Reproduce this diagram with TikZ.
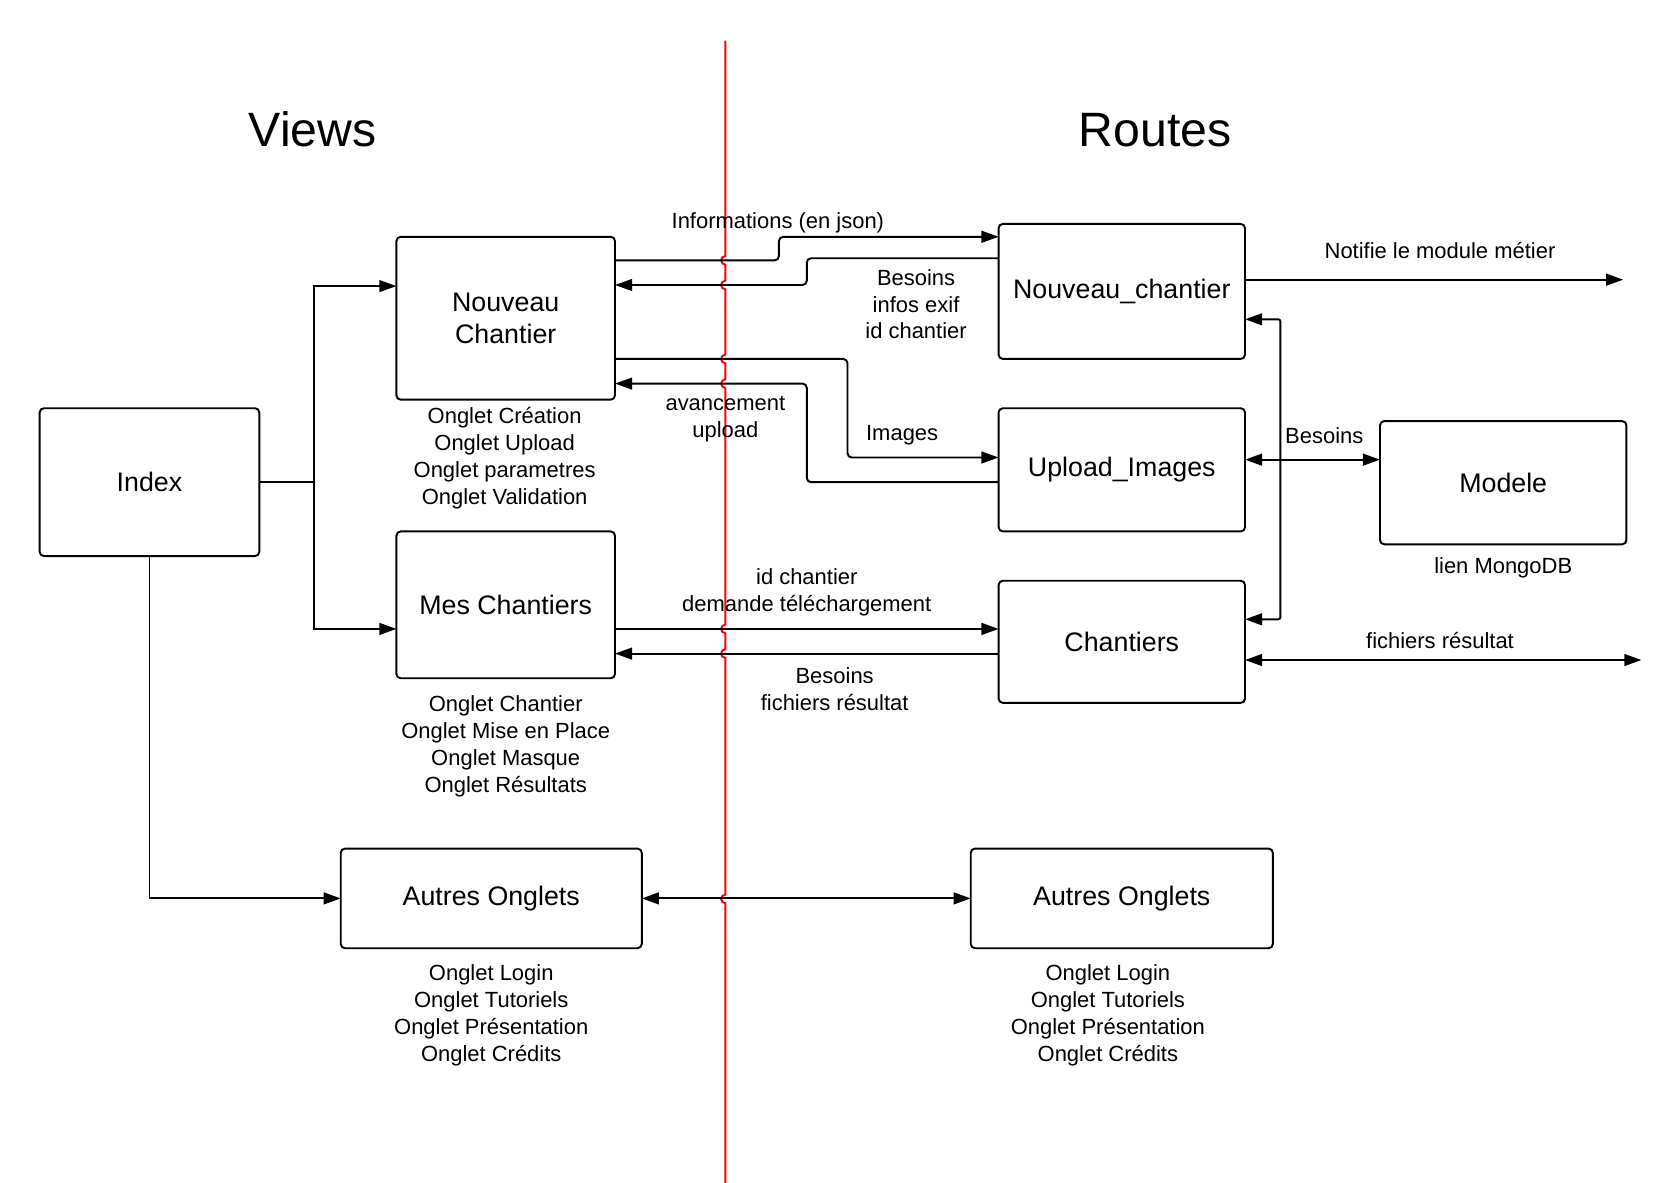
\documentclass[tikz,border=0pt]{standalone}
\usepackage{fontspec}
\setmainfont{Liberation Sans}
\usetikzlibrary{arrows.meta}
\begin{document}
\begin{tikzpicture}[x=1pt,y=-1pt,
  box/.style={draw,line width=1.8pt,rounded corners=4pt,inner sep=0pt,outer sep=0pt,align=center,font=\fontsize{25}{30}\selectfont},
  lbl/.style={inner sep=0pt,align=center,yshift=-2pt,font=\fontsize{20.5}{25}\selectfont},
  ttl/.style={inner sep=0pt,font=\fontsize{45}{50}\selectfont},
  conn/.style={line width=1.8pt,rounded corners=4pt},
  arr/.style={-{Triangle[length=16pt,width=11pt]}},
  darr/.style={{Triangle[length=16pt,width=11pt]}-{Triangle[length=16pt,width=11pt]}}
]
\fill[white] (0,0) rectangle (1568,1104);
\useasboundingbox (0,0) rectangle (1568,1104);

% red separator
\draw[red,line width=1.8pt] (677,38)
  -- (677,239) arc[start angle=270,end angle=90,radius=4]
  -- (677,262) arc[start angle=270,end angle=90,radius=4]
  -- (677,331) arc[start angle=270,end angle=90,radius=4]
  -- (677,354) arc[start angle=270,end angle=90,radius=4]
  -- (677,583) arc[start angle=270,end angle=90,radius=4]
  -- (677,606) arc[start angle=270,end angle=90,radius=4]
  -- (677,835) arc[start angle=270,end angle=90,radius=4]
  -- (677,1104);

% titles
\node[ttl] (views) at (292,121) {Views};
\node[ttl] (routes) at (1078,121) {Routes};

% boxes
\node[box,minimum width=205pt,minimum height=138pt] (idx) at (139.5,450) {Index};
\node[box,minimum width=204pt,minimum height=152pt] (nc) at (472,297) {Nouveau\\Chantier};
\node[box,minimum width=204pt,minimum height=137pt] (mc) at (472,564.5) {Mes Chantiers};
\node[box,minimum width=281pt,minimum height=93pt] (aol) at (458.5,838.5) {Autres Onglets};
\node[box,minimum width=230pt,minimum height=126pt] (nch) at (1047,272) {Nouveau\_chantier};
\node[box,minimum width=230pt,minimum height=115pt] (ui) at (1047,438.5) {Upload\_Images};
\node[box,minimum width=230pt,minimum height=114pt] (ch) at (1047,599) {Chantiers};
\node[box,minimum width=230pt,minimum height=115pt] (mod) at (1403,450.5) {Modele};
\node[box,minimum width=282pt,minimum height=93pt] (aor) at (1047,838.5) {Autres Onglets};

% labels under boxes
\node[lbl] (ncl) at (471,425.5) {Onglet Création\\Onglet Upload\\Onglet parametres\\Onglet Validation};
\node[lbl] (mcl) at (472,694.5) {Onglet Chantier\\Onglet Mise en Place\\Onglet Masque\\Onglet Résultats};
\node[lbl] (aoll) at (458.5,945.5) {Onglet Login\\Onglet Tutoriels\\Onglet Présentation\\Onglet Crédits};
\node[lbl] (aorl) at (1034,945.5) {Onglet Login\\Onglet Tutoriels\\Onglet Présentation\\Onglet Crédits};
\node[lbl] (modl) at (1403,528) {lien MongoDB};

% connector labels
\node[lbl] (l1) at (726,206) {Informations (en json)};
\node[lbl] (l2) at (855,282) {Besoins\\infos exif\\id chantier};
\node[lbl] (l3) at (842,404) {Images};
\node[lbl] (l4) at (677,389.5) {avancement\\upload};
\node[lbl] (l5) at (753,550.5) {id chantier\\demande téléchargement};
\node[lbl] (l6) at (779,641.5) {Besoins\\fichiers résultat};
\node[lbl] (l7) at (1344,232) {Notifie le module métier};
\node[lbl] (l8) at (1236,405) {Besoins};
\node[lbl] (l9) at (1344,596) {fichiers résultat};

% free ends
\coordinate (j) at (293,450);
\coordinate (notif) at (1515,261);
\coordinate (fres) at (1532,616);

% connectors
\draw[conn,rounded corners=0pt] (idx.east) -- (j);
\draw[conn,arr,rounded corners=0pt] (j) |- (nc.west |- 0,267);
\draw[conn,arr,rounded corners=0pt] (j) |- (mc.west |- 0,587);
\draw[conn,arr,rounded corners=0pt] (idx.south) |- (aol.west);
\draw[conn,darr] (aol.east) -- (aor.west);

\draw[conn,arr] (nc.east |- 0,243) -- (727,243) -- (727,221) -- (nch.west |- 0,221);
\draw[conn,arr] (nch.west |- 0,241) -- (753,241) -- (753,266) -- (nc.east |- 0,266);
\draw[conn,arr] (nc.east |- 0,335) -- (791,335) -- (791,427) -- (ui.west |- 0,427);
\draw[conn,arr] (ui.west |- 0,450) -- (753,450) -- (753,358) -- (nc.east |- 0,358);
\draw[conn,arr] (mc.east |- 0,587) -- (ch.west |- 0,587);
\draw[conn,arr] (ch.west |- 0,610) -- (mc.east |- 0,610);

\draw[conn,arr] (nch.east |- 0,261) -- (notif);
\draw[conn,darr,rounded corners=2pt] (nch.east |- 0,298) -- (1195,298) -- (1195,578) -- (ch.east |- 0,578);
\draw[conn,darr] (ui.east |- 0,429) -- (mod.west |- 0,429);
\draw[conn,darr] (ch.east |- 0,616) -- (fres);
\end{tikzpicture}
\end{document}
